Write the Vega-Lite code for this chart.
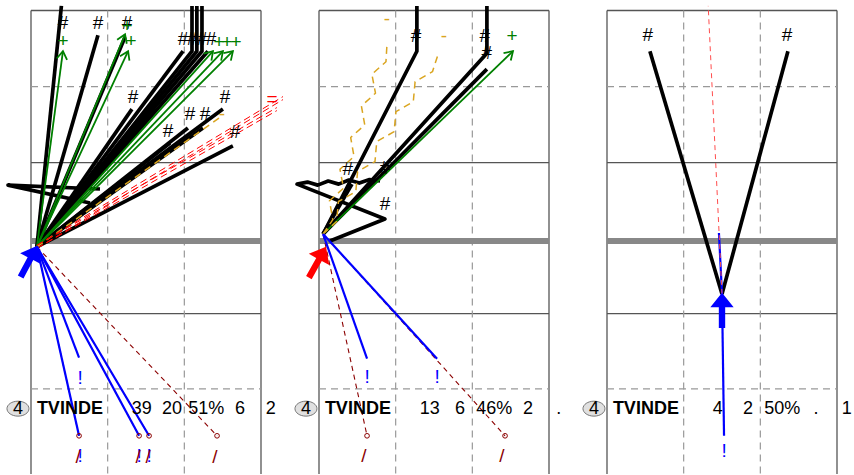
{
"$schema":"https://vega.github.io/schema/vega-lite/v6.json",
"autosize":{"type":"pad"},
"padding":{"left":4,"top":4,"right":0,"bottom":0},
"bounds":"flush",
"spacing":58,
"background":"white",
"config":{"view":{"stroke":null},"font":"Liberation Sans"},
"data":{"values":[
{"g":"cs","p":1,"x":0,"y":9,"x2":9,"y2":9},{"g":"cs","p":1,"x":0,"y":3.06,"x2":9,"y2":3.06},{"g":"cs","p":1,"x":0,"y":-2.84,"x2":9,"y2":-2.84},{"g":"cs","p":1,"x":0,"y":9,"x2":0,"y2":-9.1},{"g":"cs","p":1,"x":9,"y":9,"x2":9,"y2":-9.1},
{"g":"cd","p":1,"x":0,"y":6.03,"x2":9,"y2":6.03},{"g":"cd","p":1,"x":0,"y":-5.78,"x2":9,"y2":-5.78},{"g":"cd","p":1,"x":3,"y":9,"x2":3,"y2":-9.1},{"g":"cd","p":1,"x":6,"y":9,"x2":6,"y2":-9.1},{"g":"net","p":1,"x":0,"y":0,"x2":9,"y2":0},
{"g":"cs","p":2,"x":0,"y":9,"x2":9,"y2":9},{"g":"cs","p":2,"x":0,"y":3.06,"x2":9,"y2":3.06},{"g":"cs","p":2,"x":0,"y":-2.84,"x2":9,"y2":-2.84},{"g":"cs","p":2,"x":0,"y":9,"x2":0,"y2":-9.1},{"g":"cs","p":2,"x":9,"y":9,"x2":9,"y2":-9.1},
{"g":"cd","p":2,"x":0,"y":6.03,"x2":9,"y2":6.03},{"g":"cd","p":2,"x":0,"y":-5.78,"x2":9,"y2":-5.78},{"g":"cd","p":2,"x":3,"y":9,"x2":3,"y2":-9.1},{"g":"cd","p":2,"x":6,"y":9,"x2":6,"y2":-9.1},{"g":"net","p":2,"x":0,"y":0,"x2":9,"y2":0},
{"g":"cs","p":3,"x":0,"y":9,"x2":9,"y2":9},{"g":"cs","p":3,"x":0,"y":3.06,"x2":9,"y2":3.06},{"g":"cs","p":3,"x":0,"y":-2.84,"x2":9,"y2":-2.84},{"g":"cs","p":3,"x":0,"y":9,"x2":0,"y2":-9.1},{"g":"cs","p":3,"x":9,"y":9,"x2":9,"y2":-9.1},
{"g":"cd","p":3,"x":0,"y":6.03,"x2":9,"y2":6.03},{"g":"cd","p":3,"x":0,"y":-5.78,"x2":9,"y2":-5.78},{"g":"cd","p":3,"x":3,"y":9,"x2":3,"y2":-9.1},{"g":"cd","p":3,"x":6,"y":9,"x2":6,"y2":-9.1},{"g":"net","p":3,"x":0,"y":0,"x2":9,"y2":0},

{"g":"ln","p":1,"id":"a1","o":0,"k":"#","x":0.23,"y":-0.23},{"g":"ln","p":1,"id":"a1","o":1,"k":"#","x":1.19,"y":9.18},
{"g":"ln","p":1,"id":"a2","o":0,"k":"#","x":0.23,"y":-0.23},{"g":"ln","p":1,"id":"a2","o":1,"k":"#","x":2.62,"y":8.03},
{"g":"ln","p":1,"id":"a3","o":0,"k":"#","x":0.23,"y":-0.23},{"g":"ln","p":1,"id":"a3","o":1,"k":"#","x":3.68,"y":7.96},
{"g":"ln","p":1,"id":"a4","o":0,"k":"#","x":0.23,"y":-0.23},{"g":"ln","p":1,"id":"a4","o":1,"k":"#","x":5.95,"y":7.41},
{"g":"ln","p":1,"id":"a5","o":0,"k":"#","x":0.23,"y":-0.23},{"g":"ln","p":1,"id":"a5","o":1,"k":"#","x":6.30,"y":7.41},{"g":"ln","p":1,"id":"a5","o":2,"k":"#","x":6.30,"y":9.18},
{"g":"ln","p":1,"id":"a6","o":0,"k":"#","x":0.23,"y":-0.23},{"g":"ln","p":1,"id":"a6","o":1,"k":"#","x":6.49,"y":7.41},{"g":"ln","p":1,"id":"a6","o":2,"k":"#","x":6.49,"y":9.18},
{"g":"ln","p":1,"id":"a7","o":0,"k":"#","x":0.23,"y":-0.23},{"g":"ln","p":1,"id":"a7","o":1,"k":"#","x":6.69,"y":7.41},{"g":"ln","p":1,"id":"a7","o":2,"k":"#","x":6.69,"y":9.18},
{"g":"ln","p":1,"id":"a8","o":0,"k":"#","x":0.23,"y":-0.23},{"g":"ln","p":1,"id":"a8","o":1,"k":"#","x":6.92,"y":7.41},
{"g":"ln","p":1,"id":"a9","o":0,"k":"#","x":0.23,"y":-0.23},{"g":"ln","p":1,"id":"a9","o":1,"k":"#","x":3.95,"y":5.15},
{"g":"ln","p":1,"id":"a10","o":0,"k":"#","x":0.23,"y":-0.23},{"g":"ln","p":1,"id":"a10","o":1,"k":"#","x":5.44,"y":3.82},
{"g":"ln","p":1,"id":"a11","o":0,"k":"#","x":0.23,"y":-0.23},{"g":"ln","p":1,"id":"a11","o":1,"k":"#","x":6.14,"y":4.41},
{"g":"ln","p":1,"id":"a12","o":0,"k":"#","x":0.23,"y":-0.23},{"g":"ln","p":1,"id":"a12","o":1,"k":"#","x":6.73,"y":4.41},
{"g":"ln","p":1,"id":"a13","o":0,"k":"#","x":0.23,"y":-0.23},{"g":"ln","p":1,"id":"a13","o":1,"k":"#","x":7.51,"y":5.15},
{"g":"ln","p":1,"id":"a14","o":0,"k":"#","x":0.23,"y":-0.23},{"g":"ln","p":1,"id":"a14","o":1,"k":"#","x":7.90,"y":3.71},
{"g":"ln","p":1,"id":"a15","o":0,"k":"#","x":2.70,"y":2.03},{"g":"ln","p":1,"id":"a15","o":1,"k":"#","x":-0.90,"y":2.18},{"g":"ln","p":1,"id":"a15","o":2,"k":"#","x":2.31,"y":1.48},
{"g":"ln","p":1,"id":"b1","o":0,"k":"+","x":0.23,"y":-0.23},{"g":"ln","p":1,"id":"b1","o":1,"k":"+","x":1.25,"y":7.41},
{"g":"ln","p":1,"id":"b2","o":0,"k":"+","x":0.23,"y":-0.23},{"g":"ln","p":1,"id":"b2","o":1,"k":"+","x":3.68,"y":8.07},
{"g":"ln","p":1,"id":"b3","o":0,"k":"+","x":0.23,"y":-0.23},{"g":"ln","p":1,"id":"b3","o":1,"k":"+","x":3.80,"y":7.41},
{"g":"ln","p":1,"id":"b4","o":0,"k":"+","x":0.23,"y":-0.23},{"g":"ln","p":1,"id":"b4","o":1,"k":"+","x":7.12,"y":7.41},
{"g":"ln","p":1,"id":"b5","o":0,"k":"+","x":0.23,"y":-0.23},{"g":"ln","p":1,"id":"b5","o":1,"k":"+","x":7.51,"y":7.41},
{"g":"ln","p":1,"id":"b6","o":0,"k":"+","x":0.23,"y":-0.23},{"g":"ln","p":1,"id":"b6","o":1,"k":"+","x":7.90,"y":7.41},
{"g":"ln","p":1,"id":"c1","o":0,"k":"-","x":0.23,"y":-0.23},{"g":"ln","p":1,"id":"c1","o":1,"k":"-","x":7.47,"y":4.88},
{"g":"ln","p":1,"id":"d1","o":0,"k":"=","x":0.23,"y":-0.23},{"g":"ln","p":1,"id":"d1","o":1,"k":"=","x":9.86,"y":5.58},
{"g":"ln","p":1,"id":"d2","o":0,"k":"=","x":0.23,"y":-0.23},{"g":"ln","p":1,"id":"d2","o":1,"k":"=","x":9.62,"y":5.15},
{"g":"ln","p":1,"id":"e1","o":0,"k":"/","x":0.23,"y":-0.23},{"g":"ln","p":1,"id":"e1","o":1,"k":"/","x":1.88,"y":-7.61},
{"g":"ln","p":1,"id":"e2","o":0,"k":"/","x":0.23,"y":-0.23},{"g":"ln","p":1,"id":"e2","o":1,"k":"/","x":4.23,"y":-7.61},
{"g":"ln","p":1,"id":"e3","o":0,"k":"/","x":0.23,"y":-0.23},{"g":"ln","p":1,"id":"e3","o":1,"k":"/","x":4.62,"y":-7.61},
{"g":"ln","p":1,"id":"e4","o":0,"k":"/","x":0.23,"y":-0.23},{"g":"ln","p":1,"id":"e4","o":1,"k":"/","x":7.28,"y":-7.61},
{"g":"ln","p":1,"id":"f1","o":0,"k":"!","x":0.23,"y":-0.23},{"g":"ln","p":1,"id":"f1","o":1,"k":"!","x":1.88,"y":-4.56},
{"g":"ln","p":1,"id":"f2","o":0,"k":"!","x":0.23,"y":-0.23},{"g":"ln","p":1,"id":"f2","o":1,"k":"!","x":1.88,"y":-7.61},
{"g":"ln","p":1,"id":"f3","o":0,"k":"!","x":0.23,"y":-0.23},{"g":"ln","p":1,"id":"f3","o":1,"k":"!","x":4.23,"y":-7.61},
{"g":"ln","p":1,"id":"f4","o":0,"k":"!","x":0.23,"y":-0.23},{"g":"ln","p":1,"id":"f4","o":1,"k":"!","x":4.62,"y":-7.61},

{"g":"ln","p":2,"id":"g1","o":0,"k":"#","x":0.16,"y":0.27},{"g":"ln","p":2,"id":"g1","o":1,"k":"#","x":3.83,"y":7.41},{"g":"ln","p":2,"id":"g1","o":2,"k":"#","x":3.83,"y":9.18},
{"g":"ln","p":2,"id":"g2","o":0,"k":"#","x":0.16,"y":0.27},{"g":"ln","p":2,"id":"g2","o":1,"k":"#","x":6.57,"y":7.33},{"g":"ln","p":2,"id":"g2","o":2,"k":"#","x":6.57,"y":9.18},
{"g":"ln","p":2,"id":"g3","o":0,"k":"#","x":0.16,"y":0.27},{"g":"ln","p":2,"id":"g3","o":1,"k":"#","x":6.57,"y":6.71},
{"g":"ln","p":2,"id":"g4","o":0,"k":"#","x":0.16,"y":0.27},{"g":"ln","p":2,"id":"g4","o":1,"k":"#","x":1.29,"y":2.22},
{"g":"ln","p":2,"id":"g5","o":0,"k":"#","x":0.43,"y":0},{"g":"ln","p":2,"id":"g5","o":1,"k":"#","x":2.58,"y":0.86},{"g":"ln","p":2,"id":"g5","o":2,"k":"#","x":-0.86,"y":2.22},{"g":"ln","p":2,"id":"g5","o":3,"k":"#","x":-0.45,"y":2.30},{"g":"ln","p":2,"id":"g5","o":4,"k":"#","x":-0.05,"y":2.18},{"g":"ln","p":2,"id":"g5","o":5,"k":"#","x":0.36,"y":2.34},{"g":"ln","p":2,"id":"g5","o":6,"k":"#","x":0.77,"y":2.22},{"g":"ln","p":2,"id":"g5","o":7,"k":"#","x":1.17,"y":2.38},{"g":"ln","p":2,"id":"g5","o":8,"k":"#","x":1.58,"y":2.26},{"g":"ln","p":2,"id":"g5","o":9,"k":"#","x":1.98,"y":2.40},{"g":"ln","p":2,"id":"g5","o":10,"k":"#","x":2.39,"y":2.34},
{"g":"ln","p":2,"id":"h1","o":0,"k":"+","x":0.16,"y":0.27},{"g":"ln","p":2,"id":"h1","o":1,"k":"+","x":7.59,"y":7.41},
{"g":"ln","p":2,"id":"i1","o":0,"k":"-","x":0.16,"y":0.27},{"g":"ln","p":2,"id":"i1","o":1,"k":"-","x":0.54,"y":0.83},{"g":"ln","p":2,"id":"i1","o":2,"k":"-","x":0.41,"y":1.57},{"g":"ln","p":2,"id":"i1","o":3,"k":"-","x":0.96,"y":2.06},{"g":"ln","p":2,"id":"i1","o":4,"k":"-","x":0.82,"y":2.80},{"g":"ln","p":2,"id":"i1","o":5,"k":"-","x":1.37,"y":3.30},{"g":"ln","p":2,"id":"i1","o":6,"k":"-","x":1.24,"y":4.04},{"g":"ln","p":2,"id":"i1","o":7,"k":"-","x":1.79,"y":4.53},{"g":"ln","p":2,"id":"i1","o":8,"k":"-","x":1.66,"y":5.27},{"g":"ln","p":2,"id":"i1","o":9,"k":"-","x":2.21,"y":5.77},{"g":"ln","p":2,"id":"i1","o":10,"k":"-","x":2.07,"y":6.51},{"g":"ln","p":2,"id":"i1","o":11,"k":"-","x":2.62,"y":7.00},{"g":"ln","p":2,"id":"i1","o":12,"k":"-","x":2.66,"y":7.68},
{"g":"ln","p":2,"id":"i2","o":0,"k":"-","x":0.16,"y":0.27},{"g":"ln","p":2,"id":"i2","o":1,"k":"-","x":0.69,"y":0.76},{"g":"ln","p":2,"id":"i2","o":2,"k":"-","x":0.76,"y":1.54},{"g":"ln","p":2,"id":"i2","o":3,"k":"-","x":1.44,"y":1.93},{"g":"ln","p":2,"id":"i2","o":4,"k":"-","x":1.51,"y":2.71},{"g":"ln","p":2,"id":"i2","o":5,"k":"-","x":2.19,"y":3.10},{"g":"ln","p":2,"id":"i2","o":6,"k":"-","x":2.26,"y":3.88},{"g":"ln","p":2,"id":"i2","o":7,"k":"-","x":2.94,"y":4.27},{"g":"ln","p":2,"id":"i2","o":8,"k":"-","x":3.01,"y":5.05},{"g":"ln","p":2,"id":"i2","o":9,"k":"-","x":3.69,"y":5.44},{"g":"ln","p":2,"id":"i2","o":10,"k":"-","x":3.76,"y":6.22},{"g":"ln","p":2,"id":"i2","o":11,"k":"-","x":4.44,"y":6.61},{"g":"ln","p":2,"id":"i2","o":12,"k":"-","x":4.66,"y":7.29},
{"g":"ln","p":2,"id":"j1","o":0,"k":"!","x":0.16,"y":0.27},{"g":"ln","p":2,"id":"j1","o":1,"k":"!","x":1.88,"y":-4.60},
{"g":"ln","p":2,"id":"j2","o":0,"k":"!","x":0.16,"y":0.27},{"g":"ln","p":2,"id":"j2","o":1,"k":"!","x":4.62,"y":-4.60},
{"g":"ln","p":2,"id":"k1","o":0,"k":"/","x":0.16,"y":0.27},{"g":"ln","p":2,"id":"k1","o":1,"k":"/","x":1.88,"y":-7.61},
{"g":"ln","p":2,"id":"k2","o":0,"k":"/","x":0.16,"y":0.27},{"g":"ln","p":2,"id":"k2","o":1,"k":"/","x":7.28,"y":-7.61},

{"g":"ln","p":3,"id":"m1","o":0,"k":"#","x":4.50,"y":-2.07},{"g":"ln","p":3,"id":"m1","o":1,"k":"#","x":1.68,"y":7.41},
{"g":"ln","p":3,"id":"m2","o":0,"k":"#","x":4.50,"y":-2.07},{"g":"ln","p":3,"id":"m2","o":1,"k":"#","x":7.08,"y":7.41},
{"g":"ln","p":3,"id":"q1","o":0,"k":"!","x":4.50,"y":-2.07},{"g":"ln","p":3,"id":"q1","o":1,"k":"!","x":4.38,"y":0.31},
{"g":"ln","p":3,"id":"q2","o":0,"k":"!","x":4.50,"y":-2.07},{"g":"ln","p":3,"id":"q2","o":1,"k":"!","x":4.58,"y":-7.61},
{"g":"ln","p":3,"id":"n1","o":0,"k":"x","x":4.50,"y":-2.07},{"g":"ln","p":3,"id":"n1","o":1,"k":"x","x":3.96,"y":9.18},

{"g":"ah","p":1,"x":1.25,"y":7.41,"a":7.6},{"g":"ah","p":1,"x":3.68,"y":8.07,"a":22.6},{"g":"ah","p":1,"x":3.80,"y":7.41,"a":25},{"g":"ah","p":1,"x":7.12,"y":7.41,"a":42},{"g":"ah","p":1,"x":7.51,"y":7.41,"a":43.6},{"g":"ah","p":1,"x":7.90,"y":7.41,"a":45.1},{"g":"ah","p":2,"x":7.59,"y":7.41,"a":46.1},

{"g":"ec","p":1,"x":1.88,"y":-7.61},{"g":"ec","p":1,"x":4.23,"y":-7.61},{"g":"ec","p":1,"x":4.62,"y":-7.61},{"g":"ec","p":1,"x":7.28,"y":-7.61},{"g":"ec","p":2,"x":1.88,"y":-7.61},{"g":"ec","p":2,"x":7.28,"y":-7.61},

{"g":"mk","p":1,"k":"!","x":-0.08,"y":-0.80,"a":28},{"g":"mk","p":2,"k":"=","x":-0.06,"y":-0.83,"a":29},{"g":"mk","p":3,"k":"!","x":4.50,"y":-2.71,"a":0},

{"g":"lb","p":1,"k":"#","x":1.25,"y":8.50},{"g":"lb","p":1,"k":"#","x":2.62,"y":8.50},{"g":"lb","p":1,"k":"#","x":3.76,"y":8.50},{"g":"lb","p":1,"k":"#","x":5.95,"y":7.88},{"g":"lb","p":1,"k":"#","x":6.30,"y":7.88},{"g":"lb","p":1,"k":"#","x":6.69,"y":7.88},{"g":"lb","p":1,"k":"#","x":7.04,"y":7.88},{"g":"lb","p":1,"k":"#","x":3.99,"y":5.62},{"g":"lb","p":1,"k":"#","x":5.36,"y":4.29},{"g":"lb","p":1,"k":"#","x":6.22,"y":4.95},{"g":"lb","p":1,"k":"#","x":6.81,"y":4.95},{"g":"lb","p":1,"k":"#","x":7.59,"y":5.62},{"g":"lb","p":1,"k":"#","x":7.98,"y":4.25},
{"g":"lb","p":1,"k":"+","x":1.25,"y":7.80},{"g":"lb","p":1,"k":"+","x":3.76,"y":8.40},{"g":"lb","p":1,"k":"+","x":3.91,"y":7.80},{"g":"lb","p":1,"k":"+","x":7.36,"y":7.76},{"g":"lb","p":1,"k":"+","x":7.67,"y":7.76},{"g":"lb","p":1,"k":"+","x":8.02,"y":7.76},
{"g":"lb","p":1,"k":"=","x":9.43,"y":5.54},{"g":"lb","p":1,"k":"-","x":7.47,"y":4.95},
{"g":"lb","p":1,"k":"!","x":1.92,"y":-5.34},{"g":"lb","p":1,"k":"!","x":1.92,"y":-8.39},{"g":"lb","p":1,"k":"!","x":4.23,"y":-8.39},{"g":"lb","p":1,"k":"!","x":4.62,"y":-8.39},
{"g":"lb","p":1,"k":"/","x":1.84,"y":-8.42},{"g":"lb","p":1,"k":"/","x":4.19,"y":-8.42},{"g":"lb","p":1,"k":"/","x":4.58,"y":-8.42},{"g":"lb","p":1,"k":"/","x":7.20,"y":-8.42},
{"g":"lb","p":2,"k":"#","x":3.80,"y":8.00},{"g":"lb","p":2,"k":"#","x":6.49,"y":8.00},{"g":"lb","p":2,"k":"#","x":6.57,"y":7.33},{"g":"lb","p":2,"k":"#","x":1.13,"y":2.81},{"g":"lb","p":2,"k":"#","x":2.58,"y":2.85},{"g":"lb","p":2,"k":"#","x":2.58,"y":1.44},
{"g":"lb","p":2,"k":"+","x":7.55,"y":8.00},{"g":"lb","p":2,"k":"-","x":2.66,"y":8.66},{"g":"lb","p":2,"k":"-","x":4.89,"y":8.00},
{"g":"lb","p":2,"k":"!","x":1.88,"y":-5.30},{"g":"lb","p":2,"k":"!","x":4.62,"y":-5.30},
{"g":"lb","p":2,"k":"/","x":1.76,"y":-8.39},{"g":"lb","p":2,"k":"/","x":7.16,"y":-8.39},
{"g":"lb","p":3,"k":"#","x":1.60,"y":8.03},{"g":"lb","p":3,"k":"#","x":7.04,"y":8.03},{"g":"lb","p":3,"k":"!","x":4.58,"y":-8.19},

{"g":"sc","p":1,"x":-0.51,"y":-6.55},{"g":"sc","p":2,"x":-0.51,"y":-6.55},{"g":"sc","p":3,"x":-0.51,"y":-6.55},
{"g":"sb","p":1,"t":"TVINDE","x":0.23,"y":-6.55},{"g":"sb","p":2,"t":"TVINDE","x":0.23,"y":-6.55},{"g":"sb","p":3,"t":"TVINDE","x":0.23,"y":-6.55},
{"g":"st","p":1,"t":"4","x":-0.51,"y":-6.55},{"g":"st","p":1,"t":"39","x":4.33,"y":-6.55},{"g":"st","p":1,"t":"20","x":5.52,"y":-6.55},{"g":"st","p":1,"t":"51%","x":6.86,"y":-6.55},{"g":"st","p":1,"t":"6","x":8.18,"y":-6.55},{"g":"st","p":1,"t":"2","x":9.38,"y":-6.55},
{"g":"st","p":2,"t":"4","x":-0.51,"y":-6.55},{"g":"st","p":2,"t":"13","x":4.33,"y":-6.55},{"g":"st","p":2,"t":"6","x":5.52,"y":-6.55},{"g":"st","p":2,"t":"46%","x":6.86,"y":-6.55},{"g":"st","p":2,"t":"2","x":8.18,"y":-6.55},{"g":"st","p":2,"t":".","x":9.38,"y":-6.55},
{"g":"st","p":3,"t":"4","x":-0.51,"y":-6.55},{"g":"st","p":3,"t":"4","x":4.33,"y":-6.55},{"g":"st","p":3,"t":"2","x":5.52,"y":-6.55},{"g":"st","p":3,"t":"50%","x":6.86,"y":-6.55},{"g":"st","p":3,"t":".","x":8.18,"y":-6.55},{"g":"st","p":3,"t":"1","x":9.38,"y":-6.55}
]},
"facet":{"column":{"field":"p","type":"ordinal","header":{"labels":false,"title":null,"labelPadding":0,"titlePadding":0}}},
"spec":{
"width":230,"height":466,
"encoding":{
 "x":{"field":"x","type":"quantitative","scale":{"domain":[0,9],"nice":false,"zero":false},"axis":null},
 "y":{"field":"y","type":"quantitative","scale":{"domain":[-9.18,9.02],"nice":false,"zero":false},"axis":null}
},
"layer":[
{"transform":[{"filter":"datum.g==='cs'"}],"mark":{"type":"rule","color":"#555555","strokeWidth":1.3},"encoding":{"x2":{"field":"x2"},"y2":{"field":"y2"}}},
{"transform":[{"filter":"datum.g==='cd'"}],"mark":{"type":"rule","color":"#999999","strokeWidth":1.2,"strokeDash":[7,5]},"encoding":{"x2":{"field":"x2"},"y2":{"field":"y2"}}},
{"transform":[{"filter":"datum.g==='net'"}],"mark":{"type":"rule","color":"#888888","strokeWidth":6},"encoding":{"x2":{"field":"x2"},"y2":{"field":"y2"}}},
{"transform":[{"filter":"datum.g==='ln' && datum.k==='#'"}],"mark":{"type":"line","color":"#000000","strokeWidth":3.7,"strokeJoin":"round"},"encoding":{"detail":{"field":"id"},"order":{"field":"o"}}},
{"transform":[{"filter":"datum.g==='ln' && datum.k==='+'"}],"mark":{"type":"line","color":"#008000","strokeWidth":1.8,"strokeJoin":"round"},"encoding":{"detail":{"field":"id"},"order":{"field":"o"}}},
{"transform":[{"filter":"datum.g==='ln' && datum.k==='-'"}],"mark":{"type":"line","color":"#daa520","strokeWidth":1.5,"strokeDash":[7,5],"strokeJoin":"round"},"encoding":{"detail":{"field":"id"},"order":{"field":"o"}}},
{"transform":[{"filter":"datum.g==='ln' && datum.k==='='"}],"mark":{"type":"line","color":"#ff0000","strokeWidth":1,"strokeDash":[7,4],"yOffset":-1.5,"strokeJoin":"round"},"encoding":{"detail":{"field":"id"},"order":{"field":"o"}}},
{"transform":[{"filter":"datum.g==='ln' && datum.k==='='"}],"mark":{"type":"line","color":"#ff0000","strokeWidth":1,"strokeDash":[7,4],"yOffset":1.5,"strokeJoin":"round"},"encoding":{"detail":{"field":"id"},"order":{"field":"o"}}},
{"transform":[{"filter":"datum.g==='ln' && datum.k==='/'"}],"mark":{"type":"line","color":"#8b0000","strokeWidth":1.1,"strokeDash":[5,4],"strokeJoin":"round"},"encoding":{"detail":{"field":"id"},"order":{"field":"o"}}},
{"transform":[{"filter":"datum.g==='ln' && datum.k==='!'"}],"mark":{"type":"line","color":"#0000ff","strokeWidth":2.2,"strokeJoin":"round"},"encoding":{"detail":{"field":"id"},"order":{"field":"o"}}},
{"transform":[{"filter":"datum.g==='ln' && datum.k==='x'"}],"mark":{"type":"line","color":"#ff4d4d","strokeWidth":1,"strokeDash":[5,4],"strokeJoin":"round"},"encoding":{"detail":{"field":"id"},"order":{"field":"o"}}},
{"transform":[{"filter":"datum.g==='ah'"}],"mark":{"type":"point","shape":"M-0.55,0.85L0,0L0.55,0.85","filled":false,"color":"#008000","strokeWidth":1.8,"size":360,"opacity":1},"encoding":{"angle":{"field":"a","type":"quantitative","scale":null}}},
{"transform":[{"filter":"datum.g==='ec'"}],"mark":{"type":"point","shape":"circle","filled":false,"color":"#8b0000","strokeWidth":1,"size":22,"opacity":1}},
{"transform":[{"filter":"datum.g==='mk'"}],"mark":{"type":"point","shape":"M0,-1L0.66,-0.18L0.18,-0.18L0.18,1L-0.18,1L-0.18,-0.18L-0.66,-0.18Z","filled":true,"size":1250,"opacity":1},"encoding":{"angle":{"field":"a","type":"quantitative","scale":null},"color":{"field":"k","type":"nominal","scale":{"domain":["#","+","=","-","!","/"],"range":["#000000","#008000","#ff0000","#daa520","#0000ff","#8b0000"]},"legend":null}}},
{"transform":[{"filter":"datum.g==='lb'"}],"mark":{"type":"text","fontSize":19,"baseline":"middle","align":"center"},"encoding":{"text":{"field":"k"},"color":{"field":"k","type":"nominal","scale":{"domain":["#","+","=","-","!","/"],"range":["#000000","#008000","#ff0000","#daa520","#0000ff","#8b0000"]},"legend":null}}},
{"transform":[{"filter":"datum.g==='sc'"}],"mark":{"type":"point","shape":"M-1,0A1,0.68,0,1,1,1,0A1,0.68,0,1,1,-1,0Z","filled":true,"fill":"#e0e0e0","stroke":"#777777","strokeWidth":1,"size":484,"opacity":1}},
{"transform":[{"filter":"datum.g==='st'"}],"mark":{"type":"text","fontSize":18,"baseline":"middle","align":"center","color":"#000000"},"encoding":{"text":{"field":"t"}}},
{"transform":[{"filter":"datum.g==='sb'"}],"mark":{"type":"text","fontSize":18,"fontWeight":"bold","baseline":"middle","align":"left","color":"#000000"},"encoding":{"text":{"field":"t"}}}
]
}
}
